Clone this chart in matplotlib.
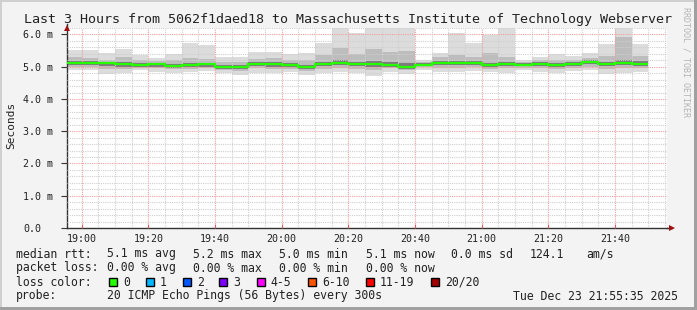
import numpy as np
import matplotlib
matplotlib.use('Agg')
import matplotlib.pyplot as plt
from matplotlib.patches import Rectangle
from matplotlib.ticker import MultipleLocator, FixedLocator, FuncFormatter

# 5 minute bins, 18:55 .. 21:50 (minutes of the day)
first_bin = 18 * 60 + 55
n_bins = 35
view_start = 18 * 60 + 55 + 35 / 60.0
view_end = 21 * 60 + 55 + 35 / 60.0

# median rtt per bin (ms)
median = [5.12, 5.12, 5.12, 5.08, 5.05, 5.08, 5.02, 5.06, 5.08, 4.99,
          4.99, 5.09, 5.09, 5.06, 4.99, 5.09, 5.12, 5.09, 5.09, 5.06,
          5.00, 5.06, 5.12, 5.12, 5.12, 5.06, 5.09, 5.06, 5.09, 5.06,
          5.09, 5.16, 5.09, 5.12, 5.09]

# smoke: outer band (min / max ping)
ping_max = [5.51, 5.51, 5.41, 5.54, 5.37, 5.26, 5.39, 5.74, 5.67, 5.29,
            5.29, 5.46, 5.46, 5.39, 5.43, 5.72, 6.25, 6.03, 6.25, 6.25,
            6.25, 5.22, 5.44, 6.03, 5.72, 5.98, 6.25, 5.22, 5.29, 5.39,
            5.34, 5.42, 5.70, 6.25, 5.70]
ping_min = [4.89, 4.89, 4.76, 4.79, 4.89, 4.84, 4.81, 4.84, 4.87, 4.81,
            4.74, 4.81, 4.79, 4.84, 4.74, 4.79, 4.84, 4.79, 4.71, 4.84,
            4.77, 4.90, 4.84, 4.84, 4.87, 4.84, 4.81, 4.90, 4.84, 4.81,
            4.87, 4.90, 4.77, 4.81, 4.84]

# middle band
mid_hi = [5.30, 5.28, 5.22, 5.30, 5.20, 5.18, 5.20, 5.28, 5.25, 5.14,
          5.16, 5.24, 5.26, 5.22, 5.20, 5.35, 5.58, 5.40, 5.55, 5.45,
          5.50, 5.15, 5.30, 5.35, 5.30, 5.42, 5.30, 5.14, 5.20, 5.22,
          5.22, 5.26, 5.32, 5.93, 5.34]
mid_lo = [4.98, 4.98, 4.92, 4.92, 4.95, 4.96, 4.92, 4.94, 4.96, 4.90,
          4.88, 4.95, 4.93, 4.94, 4.88, 4.94, 4.96, 4.94, 4.90, 4.95,
          4.90, 4.98, 4.96, 4.95, 4.98, 4.94, 4.95, 4.96, 4.95, 4.94,
          4.96, 4.98, 4.92, 4.95, 4.96]

# inner (dark) band
core_hi = [5.18, 5.17, 5.16, 5.14, 5.10, 5.12, 5.08, 5.12, 5.13, 5.06,
           5.05, 5.14, 5.15, 5.12, 5.06, 5.15, 5.20, 5.16, 5.18, 5.14,
           5.10, 5.10, 5.17, 5.18, 5.17, 5.13, 5.15, 5.10, 5.14, 5.12,
           5.15, 5.22, 5.16, 5.20, 5.17]
core_lo = [5.04, 5.04, 5.02, 4.99, 4.98, 5.00, 4.96, 4.98, 5.00, 4.94,
           4.93, 5.01, 5.00, 4.99, 4.93, 5.01, 5.04, 5.01, 4.99, 4.99,
           4.94, 5.02, 5.04, 5.04, 5.05, 4.99, 5.02, 5.01, 5.02, 4.99,
           5.03, 5.08, 5.01, 5.04, 5.02]

y_ticks = [0, 1, 2, 3, 4, 5, 6]
y_labels = ['0.0', '1.0 m', '2.0 m', '3.0 m', '4.0 m', '5.0 m', '6.0 m']

title = 'Last 3 Hours from 5062f1daed18 to Massachusetts Institute of Technology Webserver'
loss_labels = ['0', '1', '2', '3', '4-5', '6-10', '11-19', '20/20']
loss_colors = ['#26ff00', '#00b8ff', '#0059ff', '#7e00ff', '#ff00ff',
               '#ff5500', '#ff0000', '#a10000']

MONO = 'DejaVu Sans Mono'
W, H = 697, 310

fig = plt.figure(figsize=(W / 100, H / 100), dpi=100, facecolor='#f3f3f3')


def px(x, y):
    return x / W, 1 - y / H


ax = fig.add_axes([67 / W, (H - 228) / H, 600 / W, 200 / H])
ax.set_facecolor('white')

edges = first_bin + 5 * np.arange(n_bins + 1)
ax.stairs(ping_max, edges, baseline=ping_min, fill=True, color='#dcdcdc', lw=0)
ax.stairs(mid_hi, edges, baseline=mid_lo, fill=True, color='#bdbdbd', lw=0)
ax.stairs(core_hi, edges, baseline=core_lo, fill=True, color='#7c7c7c', lw=0)
ax.stairs(median, edges, baseline=None, color='#26ff00', lw=1.6, zorder=3)

ax.set_xlim(view_start, view_end)
ax.set_ylim(0, 6.2)

# grid
ax.xaxis.set_major_locator(FixedLocator(np.arange(19 * 60, 21 * 60 + 41, 20)))
ax.xaxis.set_minor_locator(MultipleLocator(5))
ax.xaxis.set_major_formatter(FuncFormatter(lambda v, p: '%02d:%02d' % (int(v) // 60, int(v) % 60)))
ax.set_yticks(y_ticks)
ax.set_yticklabels(y_labels)
ax.yaxis.set_minor_locator(MultipleLocator(0.2))
ax.set_axisbelow(False)
ax.grid(which='minor', color='#cfcfcf', lw=0.8, ls=(0, (1, 1)))
ax.grid(which='major', color='#f0a0a0', lw=0.8, ls=(0, (1, 1)))

for s in ['top', 'right']:
    ax.spines[s].set_visible(False)
for s in ['left', 'bottom']:
    ax.spines[s].set_color('#333333')
    ax.spines[s].set_linewidth(1.0)

ax.tick_params(axis='y', which='major', length=4, width=0.8, color='#333333',
               pad=1.5, labelsize=7.2, labelcolor='#222222')
ax.tick_params(axis='x', which='major', length=3, width=0.8, color='#e06060',
               direction='in', pad=4, labelsize=7.2, labelcolor='#222222')
ax.tick_params(which='minor', length=0)
for lbl in ax.get_xticklabels() + ax.get_yticklabels():
    lbl.set_family(MONO)
# rrdtool aligns the value labels on the left
for lbl in ax.get_yticklabels():
    lbl.set_ha('left')
ax.tick_params(axis='y', which='major', pad=33 - 4 * 1.39)

# axis arrows
ax.plot([0], [1.0], marker='^', ms=4.5, color='#a01010', transform=ax.transAxes,
        clip_on=False, zorder=5, markeredgewidth=0)
ax.plot([1.008], [0], marker='>', ms=4.5, color='#a01010', transform=ax.transAxes,
        clip_on=False, zorder=5, markeredgewidth=0)
ax.plot([0, 0], [1.0, 1.02], color='#333333', lw=1.0, transform=ax.transAxes, clip_on=False)
ax.plot([1.0, 1.008], [0, 0], color='#333333', lw=1.0, transform=ax.transAxes, clip_on=False)

# titles
fig.text(*px(348, 19), title, ha='center', va='center', family=MONO, size=9.6, color='#222222')
fig.text(*px(11, 125), 'Seconds', ha='center', va='center', rotation=90, family=MONO,
         size=8, color='#222222')
fig.text(*px(686, 62), 'RRDTOOL / TOBI OETIKER', ha='center', va='center', rotation=270,
         family=MONO, size=6, color='#b4b4b4')

# legend block
fs = 8.3
rows = [
    (254, [(16, 'median rtt:'), (107, '5.1 ms avg'), (193, '5.2 ms max'),
           (279, '5.0 ms min'), (366, '5.1 ms now'), (451, '0.0 ms sd'),
           (530, '124.1'), (586, 'am/s')]),
    (268, [(16, 'packet loss:'), (107, '0.00 % avg'), (193, '0.00 % max'),
           (279, '0.00 % min'), (366, '0.00 % now')]),
    (282, [(16, 'loss color:')]),
    (296, [(16, 'probe:'), (107, '20 ICMP Echo Pings (56 Bytes) every 300s'),
           (513, 'Tue Dec 23 21:55:35 2025')]),
]
for y, items in rows:
    for x, s in items:
        fig.text(*px(x, y), s, ha='left', va='center', family=MONO, size=fs, color='#222222')

box_x = [109, 146, 183, 219, 257, 308, 366, 431]
label_x = [123, 160, 197, 233, 270, 322, 380, 445]
for bx, lx, c, s in zip(box_x, label_x, loss_colors, loss_labels):
    fig.add_artist(Rectangle(px(bx, 286), 8 / W, 8 / H, transform=fig.transFigure,
                             facecolor=c, edgecolor='black', lw=1.0))
    fig.text(*px(lx, 282), s, ha='left', va='center', family=MONO, size=fs, color='#222222')

# 3d frame around the image
fig.add_artist(Rectangle((0, 1 - 2 / H), 1, 2 / H, transform=fig.transFigure,
                         facecolor='#d0d0d0', lw=0))
fig.add_artist(Rectangle((0, 0), 2 / W, 1, transform=fig.transFigure,
                         facecolor='#d0d0d0', lw=0))
fig.add_artist(Rectangle((0, 0), 1, 3 / H, transform=fig.transFigure,
                         facecolor='#a0a0a0', lw=0))
fig.add_artist(Rectangle((1 - 3 / W, 0), 3 / W, 1, transform=fig.transFigure,
                         facecolor='#a0a0a0', lw=0))

fig.savefig('out.png', dpi=100, facecolor=fig.get_facecolor())
plt.close(fig)
